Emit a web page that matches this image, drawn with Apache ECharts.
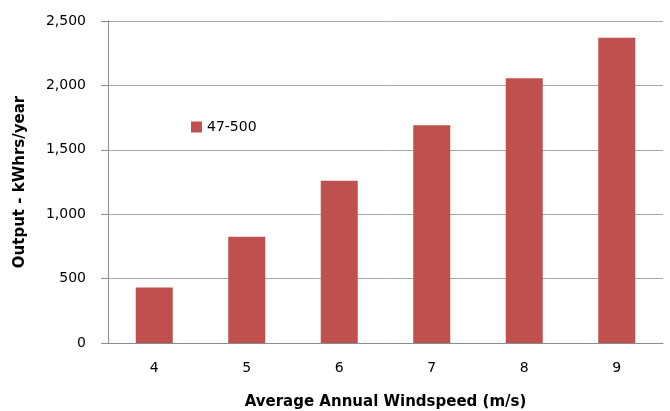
<!DOCTYPE html>
<html>
<head>
<meta charset="utf-8">
<script src="https://cdn.jsdelivr.net/npm/echarts@6/dist/echarts.min.js"></script>
<style>html,body{margin:0;padding:0;background:#fff;}#c{width:670px;height:411px;}</style>
</head>
<body>
<div id="c"></div>
<script>
const categories = ['4', '5', '6', '7', '8', '9'];
const seriesName = '47-500';
const values = [430, 825, 1260, 1690, 2055, 2370];
const yTicks = { min: 0, max: 2500, interval: 500 };

const chart = echarts.init(document.getElementById('c'), null, { renderer: 'canvas' });
const font = 'DejaVu Sans';
chart.setOption({
  animation: false,
  backgroundColor: '#ffffff',
  grid: { left: 108, right: 7, top: 21, bottom: 68, containLabel: false, outerBoundsMode: 'none' },
  legend: {
    left: 186, top: 115,
    itemWidth: 11, itemHeight: 11, itemGap: 4,
    icon: 'rect',
    textStyle: { fontFamily: font, fontSize: 14, color: '#000' },
    data: [seriesName]
  },
  xAxis: {
    type: 'category',
    data: categories,
    name: 'Average Annual Windspeed (m/s)',
    nameLocation: 'middle',
    nameGap: 52,
    nameTextStyle: { fontFamily: font, fontSize: 15, fontWeight: 'bold', color: '#000' },
    axisLine: { lineStyle: { color: '#8c8c8c', width: 1 } },
    axisTick: { show: false },
    axisLabel: { fontFamily: font, fontSize: 14, color: '#000', margin: 18 }
  },
  yAxis: {
    type: 'value',
    min: yTicks.min, max: yTicks.max, interval: yTicks.interval,
    name: 'Output - kWhrs/year',
    nameLocation: 'middle',
    nameGap: 80,
    nameRotate: 90,
    nameTextStyle: { fontFamily: font, fontSize: 15, fontWeight: 'bold', color: '#000' },
    axisLine: { show: true, lineStyle: { color: '#8c8c8c', width: 1 } },
    axisTick: { show: true, length: 7, lineStyle: { color: '#8c8c8c' } },
    splitLine: { lineStyle: { color: '#a6a6a6', width: 1 } },
    axisLabel: {
      fontFamily: font, fontSize: 14, color: '#000', margin: 22,
      formatter: v => v.toLocaleString('en-US')
    }
  },
  series: [{
    name: seriesName,
    type: 'bar',
    data: values,
    barCategoryGap: '60%',
    itemStyle: { color: '#c0504d' }
  }]
});
</script>
</body>
</html>
